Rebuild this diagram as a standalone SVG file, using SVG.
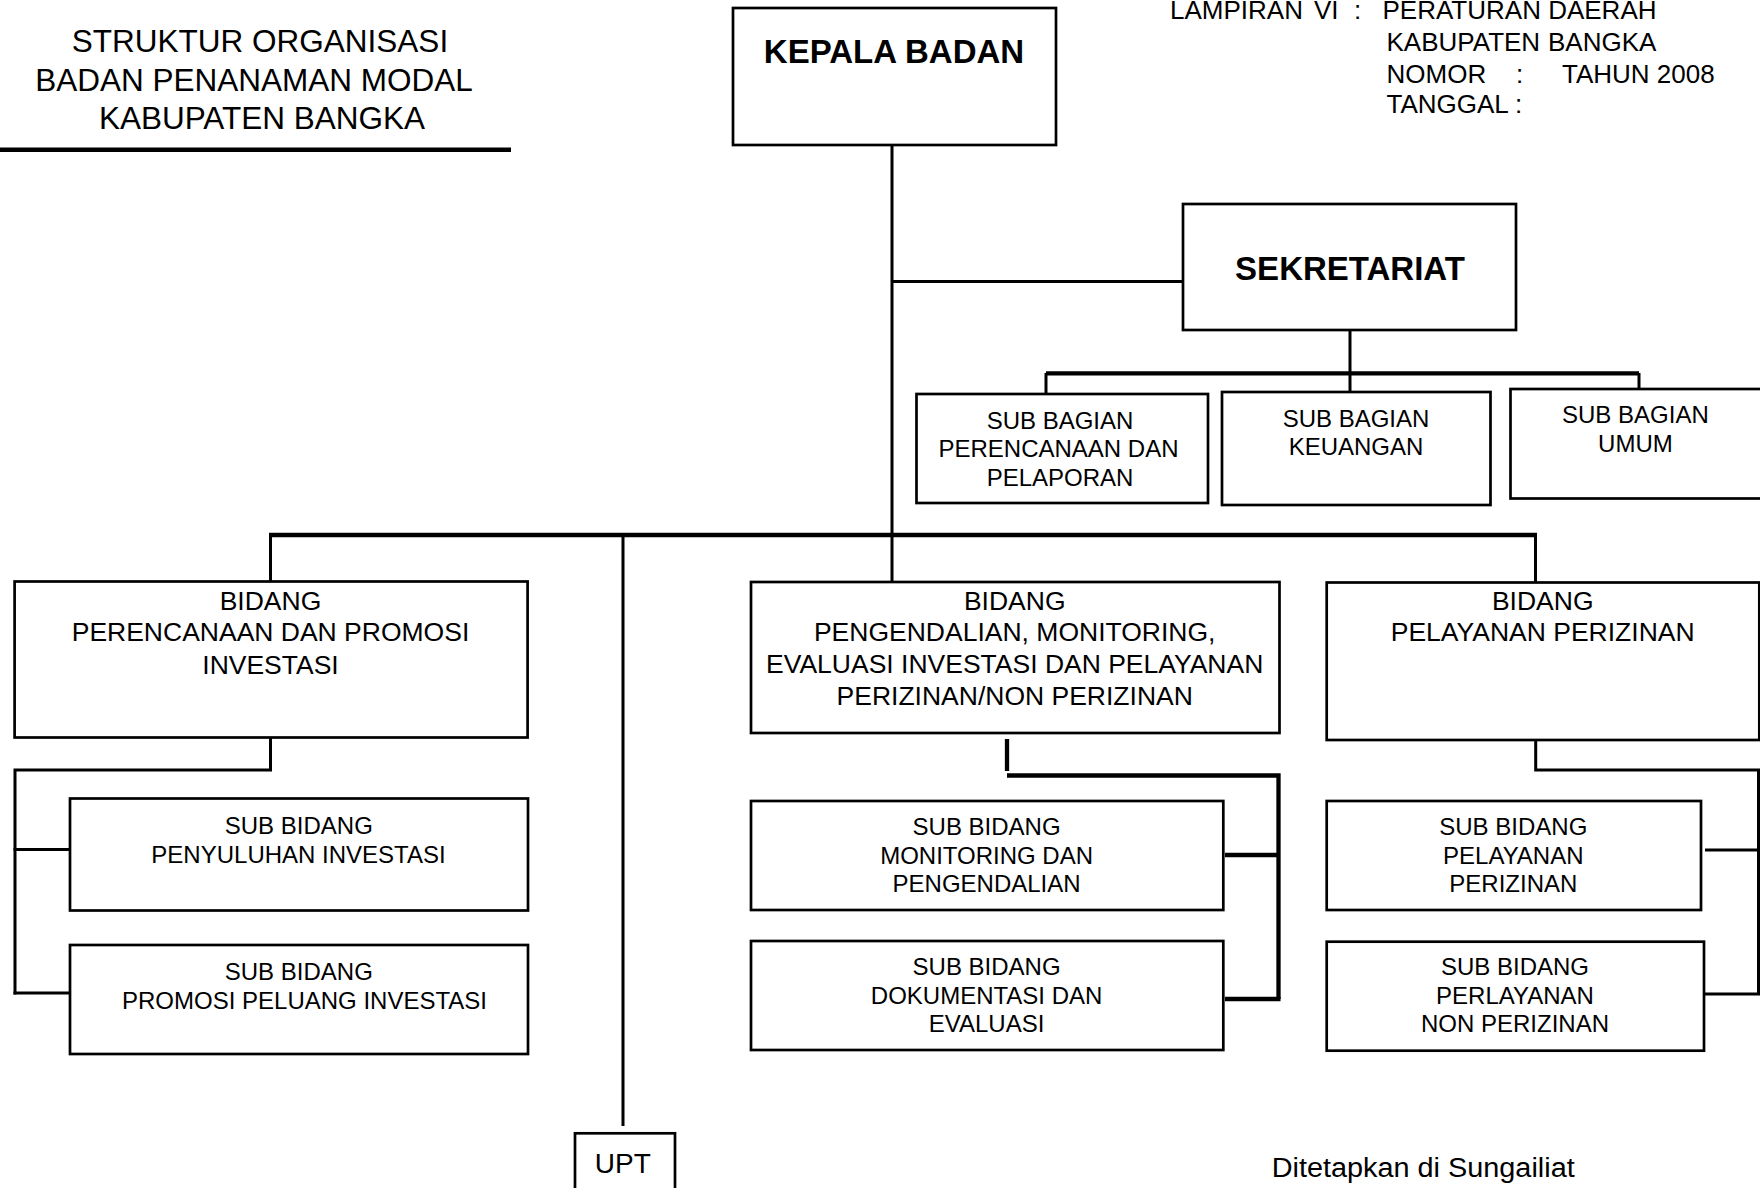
<svg xmlns="http://www.w3.org/2000/svg" width="1760" height="1188" viewBox="0 0 1760 1188">
<style>
text{font-family:"Liberation Sans",Arial,sans-serif;fill:#000}
.box{fill:#fff;stroke:#000;stroke-width:2.7}
.ln{fill:none;stroke:#000;stroke-width:3}
.bus{fill:none;stroke:#000;stroke-width:4.3}
.t24{font-size:24px;text-anchor:middle}
.t26{font-size:26.5px;text-anchor:middle}
.tr{font-size:26px}
.hd{font-size:33px;font-weight:bold;text-anchor:middle}
.ttl{font-size:31.5px;text-anchor:middle}
</style>
<rect width="1760" height="1188" fill="#fff"/>

<g id="title">
<text class="ttl" x="260" y="52">STRUKTUR ORGANISASI</text>
<text class="ttl" x="254" y="91">BADAN PENANAMAN MODAL</text>
<text class="ttl" x="262" y="128.5">KABUPATEN BANGKA</text>
<rect x="0" y="147.5" width="511" height="4.5" fill="#000"/>
</g>

<g id="lampiran">
<text class="tr" x="1170" y="19">LAMPIRAN</text>
<text class="tr" x="1314" y="19">VI</text>
<text class="tr" x="1354" y="19">:</text>
<text class="tr" x="1382.5" y="19">PERATURAN DAERAH</text>
<text class="tr" x="1386.5" y="50.5">KABUPATEN</text>
<text class="tr" x="1548" y="50.5">BANGKA</text>
<text class="tr" x="1386.5" y="82.5">NOMOR</text>
<text class="tr" x="1516" y="82.5">:</text>
<text class="tr" x="1562" y="82.5">TAHUN 2008</text>
<text class="tr" x="1386.5" y="113">TANGGAL :</text>
</g>

<g id="connectors">
<line class="ln" x1="892" y1="142" x2="892" y2="582"/>
<line class="ln" x1="892" y1="281.5" x2="1183" y2="281.5"/>
<line class="ln" x1="1350" y1="330" x2="1350" y2="373"/>
<line class="bus" x1="1046" y1="373.3" x2="1639" y2="373.3"/>
<line class="ln" x1="1046" y1="373" x2="1046" y2="394"/>
<line class="ln" x1="1350" y1="373" x2="1350" y2="392"/>
<line class="ln" x1="1639" y1="373" x2="1639" y2="389"/>
<line class="bus" x1="269" y1="535" x2="1537" y2="535"/>
<line class="ln" x1="270.5" y1="535" x2="270.5" y2="581.5"/>
<line class="ln" x1="623" y1="535" x2="623" y2="1126"/>
<line class="ln" x1="1535.5" y1="535" x2="1535.5" y2="582.5"/>
<polyline class="ln" points="270.5,737.5 270.5,770 15,770 15,994.5"/>
<line class="ln" x1="13.5" y1="849.5" x2="70" y2="849.5"/>
<line class="ln" x1="13.5" y1="993" x2="70" y2="993"/>
<line class="bus" x1="1007" y1="739" x2="1007" y2="771"/>
<polyline class="bus" points="1007,775.5 1278.5,775.5 1278.5,999"/>
<line class="bus" x1="1225" y1="855" x2="1278.5" y2="855"/>
<line class="bus" x1="1225" y1="999" x2="1280.5" y2="999"/>
<polyline class="ln" points="1535.7,739 1535.7,770 1758.5,770 1758.5,994"/>
<line class="ln" x1="1705" y1="850" x2="1758.5" y2="850"/>
<line class="ln" x1="1704" y1="994" x2="1760" y2="994"/>
</g>

<g id="kepala">
<rect class="box" x="733" y="8" width="323" height="137"/>
<text class="hd" x="894" y="63">KEPALA BADAN</text>
</g>

<g id="sekretariat">
<rect class="box" x="1183" y="204" width="333" height="126"/>
<text class="hd" x="1350" y="280">SEKRETARIAT</text>
</g>

<g id="sb-perencanaan">
<rect class="box" x="916.5" y="394" width="291.5" height="109"/>
<text class="t24" x="1060" y="429">SUB BAGIAN</text>
<text class="t24" x="1058.5" y="457">PERENCANAAN DAN</text>
<text class="t24" x="1060" y="485.5">PELAPORAN</text>
</g>

<g id="sb-keuangan">
<rect class="box" x="1222" y="392" width="268.5" height="113"/>
<text class="t24" x="1356" y="427.3">SUB BAGIAN</text>
<text class="t24" x="1356" y="455.3">KEUANGAN</text>
</g>

<g id="sb-umum">
<rect class="box" x="1510.5" y="389" width="262" height="109.5"/>
<text class="t24" x="1635.4" y="423">SUB BAGIAN</text>
<text class="t24" x="1635.4" y="451.7">UMUM</text>
</g>

<g id="bidang-perencanaan">
<rect class="box" x="14.6" y="581.5" width="513" height="156"/>
<text class="t26" x="270.5" y="610">BIDANG</text>
<text class="t26" x="270.5" y="641.2">PERENCANAAN DAN PROMOSI</text>
<text class="t26" x="270.5" y="673.5">INVESTASI</text>
</g>

<g id="bidang-pengendalian">
<rect class="box" x="751" y="582" width="528.5" height="151"/>
<text class="t26" x="1014.7" y="610">BIDANG</text>
<text class="t26" x="1014.7" y="641.2">PENGENDALIAN, MONITORING,</text>
<text class="t26" x="1014.7" y="672.8">EVALUASI INVESTASI DAN PELAYANAN</text>
<text class="t26" x="1014.7" y="704.5">PERIZINAN/NON PERIZINAN</text>
</g>

<g id="bidang-pelayanan">
<rect class="box" x="1326.7" y="582.5" width="432.6" height="157.5"/>
<text class="t26" x="1542.7" y="610">BIDANG</text>
<text class="t26" x="1542.7" y="641.2">PELAYANAN PERIZINAN</text>
</g>

<g id="sub-penyuluhan">
<rect class="box" x="70" y="798.5" width="458" height="112"/>
<text class="t24" x="298.8" y="833.6">SUB BIDANG</text>
<text class="t24" x="298.5" y="862.7">PENYULUHAN INVESTASI</text>
</g>

<g id="sub-promosi">
<rect class="box" x="70" y="945" width="458" height="109"/>
<text class="t24" x="298.8" y="979.5">SUB BIDANG</text>
<text class="t24" x="304.5" y="1008.7">PROMOSI PELUANG INVESTASI</text>
</g>

<g id="sub-monitoring">
<rect class="box" x="751" y="801" width="472.3" height="109"/>
<text class="t24" x="986.6" y="835.3">SUB BIDANG</text>
<text class="t24" x="986.6" y="863.6">MONITORING DAN</text>
<text class="t24" x="986.6" y="892">PENGENDALIAN</text>
</g>

<g id="sub-dokumentasi">
<rect class="box" x="751" y="941" width="472.3" height="109"/>
<text class="t24" x="986.6" y="975.3">SUB BIDANG</text>
<text class="t24" x="986.6" y="1003.6">DOKUMENTASI DAN</text>
<text class="t24" x="986.6" y="1032">EVALUASI</text>
</g>

<g id="sub-pelayanan">
<rect class="box" x="1326.7" y="801" width="374.3" height="109"/>
<text class="t24" x="1513.3" y="835.3">SUB BIDANG</text>
<text class="t24" x="1513.3" y="863.6">PELAYANAN</text>
<text class="t24" x="1513.3" y="892">PERIZINAN</text>
</g>

<g id="sub-nonperizinan">
<rect class="box" x="1326.7" y="941.7" width="377.3" height="109"/>
<text class="t24" x="1515" y="975.3">SUB BIDANG</text>
<text class="t24" x="1515" y="1003.6">PERLAYANAN</text>
<text class="t24" x="1515" y="1032">NON PERIZINAN</text>
</g>

<g id="upt">
<rect class="box" x="575" y="1133.3" width="100" height="62"/>
<text x="622.8" y="1172.7" font-size="28" text-anchor="middle">UPT</text>
</g>

<g id="ditetapkan">
<text x="1271.7" y="1176.7" font-size="27" textLength="303" lengthAdjust="spacingAndGlyphs">Ditetapkan di Sungailiat</text>
</g>
</svg>
